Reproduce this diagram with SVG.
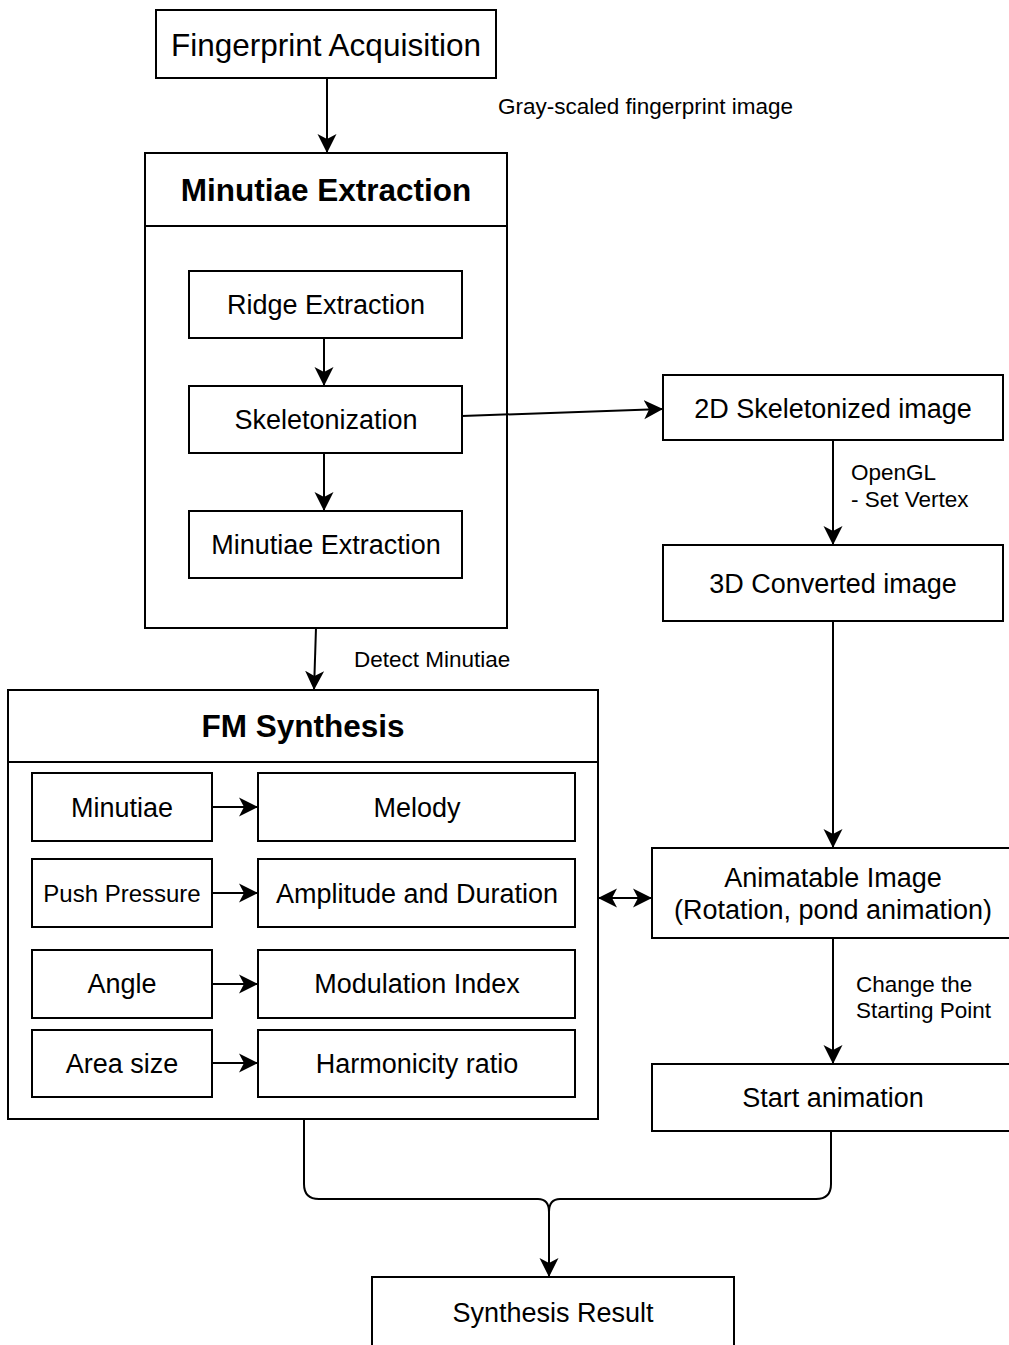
<svg xmlns="http://www.w3.org/2000/svg" width="1009" height="1345" viewBox="0 0 1009 1345">
<style>
.box{fill:#fff;stroke:#000;stroke-width:2}
.t{font-family:"Liberation Sans",Arial,sans-serif;fill:#000;text-anchor:middle}
.l{font-family:"Liberation Sans",Arial,sans-serif;fill:#000;font-size:22.5px}
.c{fill:none;stroke:#000;stroke-width:2}
</style>
<defs>
<marker id="ah" viewBox="0 0 19 20" refX="19" refY="10" markerWidth="19" markerHeight="20" orient="auto-start-reverse" markerUnits="userSpaceOnUse"><path d="M0,0.5 L19,10 L0,19.5 L5,10 z" fill="#000"/></marker>
</defs>
<rect width="1009" height="1345" fill="#fff"/>
<g id="fingerprint-acquisition"><rect class="box" x="156" y="10" width="340" height="68"/><text class="t" x="326" y="56" font-size="31.5">Fingerprint Acquisition</text></g>
<g id="minutiae-extraction-group"><rect class="box" x="145" y="153" width="362" height="475"/><line x1="145" y1="226" x2="507" y2="226" stroke="#000" stroke-width="2"/><text class="t" x="326" y="201" font-size="31.5" font-weight="bold">Minutiae Extraction</text></g>
<g id="ridge-extraction"><rect class="box" x="189" y="271" width="273" height="67"/><text class="t" x="326" y="314" font-size="27">Ridge Extraction</text></g>
<g id="skeletonization"><rect class="box" x="189" y="386" width="273" height="67"/><text class="t" x="326" y="429" font-size="27">Skeletonization</text></g>
<g id="minutiae-extraction"><rect class="box" x="189" y="511" width="273" height="67"/><text class="t" x="326" y="554" font-size="27">Minutiae Extraction</text></g>
<g id="skeletonized-2d"><rect class="box" x="663" y="375" width="340" height="65"/><text class="t" x="833" y="418" font-size="27">2D Skeletonized image</text></g>
<g id="converted-3d"><rect class="box" x="663" y="545" width="340" height="76"/><text class="t" x="833" y="593" font-size="27">3D Converted image</text></g>
<g id="fm-synthesis"><rect class="box" x="8" y="690" width="590" height="429"/><line x1="8" y1="762" x2="598" y2="762" stroke="#000" stroke-width="2"/><text class="t" x="303" y="737" font-size="31.5" font-weight="bold">FM Synthesis</text></g>
<g id="minutiae"><rect class="box" x="32" y="773" width="180" height="68"/><text class="t" x="122" y="817" font-size="27">Minutiae</text></g>
<g id="melody"><rect class="box" x="258" y="773" width="317" height="68"/><text class="t" x="417" y="817" font-size="27">Melody</text></g>
<g id="push-pressure"><rect class="box" x="32" y="859" width="180" height="68"/><text class="t" x="122" y="902" font-size="24">Push Pressure</text></g>
<g id="amplitude"><rect class="box" x="258" y="859" width="317" height="68"/><text class="t" x="417" y="903" font-size="27">Amplitude and Duration</text></g>
<g id="angle"><rect class="box" x="32" y="950" width="180" height="68"/><text class="t" x="122" y="993" font-size="27">Angle</text></g>
<g id="modulation"><rect class="box" x="258" y="950" width="317" height="68"/><text class="t" x="417" y="993" font-size="27">Modulation Index</text></g>
<g id="area-size"><rect class="box" x="32" y="1030" width="180" height="67"/><text class="t" x="122" y="1073" font-size="27">Area size</text></g>
<g id="harmonicity"><rect class="box" x="258" y="1030" width="317" height="67"/><text class="t" x="417" y="1073" font-size="27">Harmonicity ratio</text></g>
<g id="animatable"><rect class="box" x="652" y="848" width="358" height="90"/><text class="t" x="833" y="887" font-size="27">Animatable Image</text><text class="t" x="833" y="919" font-size="27">(Rotation, pond animation)</text></g>
<g id="start-animation"><rect class="box" x="652" y="1064" width="358" height="67"/><text class="t" x="833" y="1107" font-size="27">Start animation</text></g>
<g id="synthesis-result"><rect class="box" x="372" y="1277" width="362" height="80"/><text class="t" x="553" y="1322" font-size="27">Synthesis Result</text></g>
<g id="connectors">
<line class="c" x1="327" y1="78" x2="327" y2="153" marker-end="url(#ah)"/>
<line class="c" x1="324" y1="338" x2="324" y2="386" marker-end="url(#ah)"/>
<line class="c" x1="324" y1="453" x2="324" y2="511" marker-end="url(#ah)"/>
<line class="c" x1="462" y1="416" x2="663" y2="409" marker-end="url(#ah)"/>
<line class="c" x1="833" y1="440" x2="833" y2="545" marker-end="url(#ah)"/>
<line class="c" x1="833" y1="621" x2="833" y2="848" marker-end="url(#ah)"/>
<line class="c" x1="833" y1="938" x2="833" y2="1064" marker-end="url(#ah)"/>
<line class="c" x1="316" y1="628" x2="314" y2="690" marker-end="url(#ah)"/>
<line class="c" x1="598" y1="898" x2="652" y2="898" marker-start="url(#ah)" marker-end="url(#ah)"/>
<line class="c" x1="212" y1="807" x2="258" y2="807" marker-end="url(#ah)"/>
<line class="c" x1="212" y1="893" x2="258" y2="893" marker-end="url(#ah)"/>
<line class="c" x1="212" y1="984" x2="258" y2="984" marker-end="url(#ah)"/>
<line class="c" x1="212" y1="1063" x2="258" y2="1063" marker-end="url(#ah)"/>
<path class="c" d="M304,1119 V1184 Q304,1199 319,1199 H538 Q549,1199 549,1212"/>
<path class="c" d="M831,1131 V1184 Q831,1199 816,1199 H560 Q549,1199 549,1212 V1277" marker-end="url(#ah)"/>
<text class="l" x="498" y="114">Gray-scaled fingerprint image</text>
<text class="l" x="354" y="667">Detect Minutiae</text>
<text class="l" x="851" y="480">OpenGL</text>
<text class="l" x="851" y="507">- Set Vertex</text>
<text class="l" x="856" y="992">Change the</text>
<text class="l" x="856" y="1018">Starting Point</text>
</g>
</svg>
